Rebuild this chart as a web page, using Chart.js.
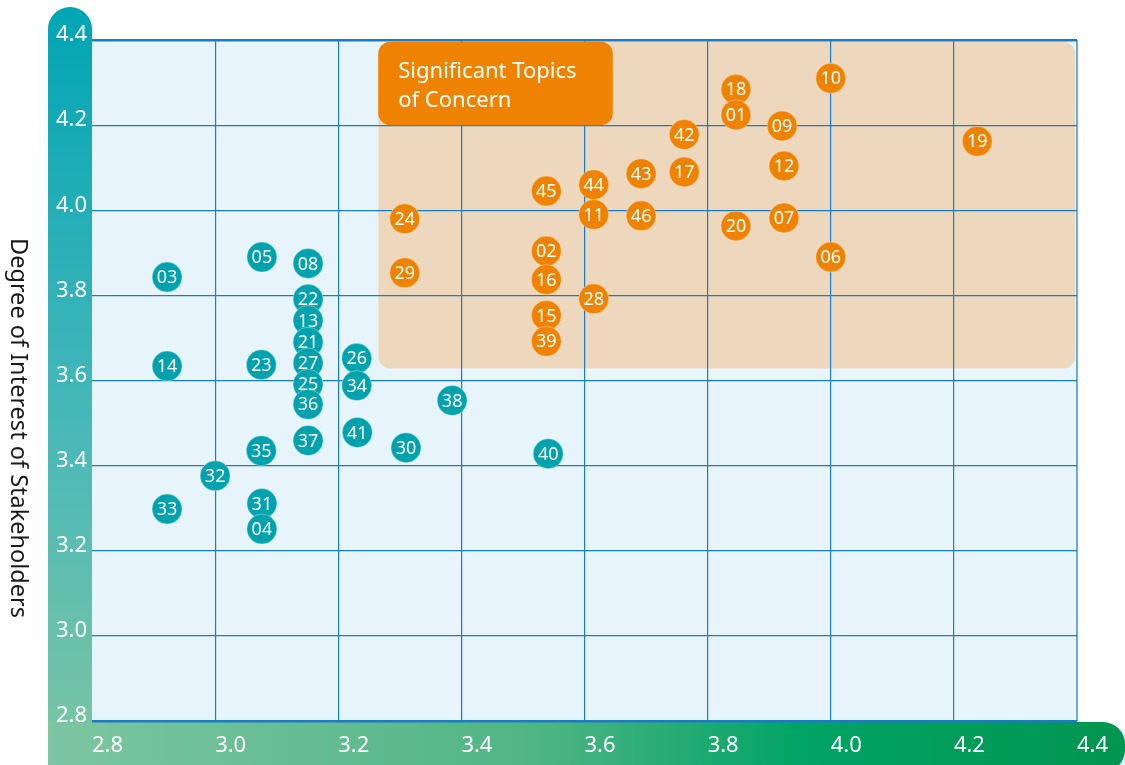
<!DOCTYPE html>
<html>
<head>
<meta charset="utf-8">
<script src="https://cdn.jsdelivr.net/npm/chart.js@4.4.0/dist/chart.umd.min.js"></script>
<style>
  html, body { margin: 0; padding: 0; background: #ffffff; }
  #contenedor { width: 1125px; height: 765px; }
</style>
</head>
<body>
<div id="contenedor"><canvas id="grafica" width="1125" height="765"></canvas></div>
<script>
//--------Datos
// Temas significativos (naranja)
const significantIds = ["24", "29", "45", "02", "16", "15", "39", "44", "11", "28", "43", "46",
    "42", "17", "18", "01", "20", "09", "12", "07", "10", "06", "19"]
const significantImpact = [3.308, 3.308, 3.538, 3.538, 3.538, 3.538, 3.538, 3.615, 3.615, 3.615, 3.692, 3.692,
    3.762, 3.762, 3.846, 3.846, 3.846, 3.921, 3.924, 3.924, 4.000, 4.000, 4.238]
const significantInterest = [3.98, 3.853, 4.045, 3.904, 3.837, 3.753, 3.692, 4.06, 3.99, 3.792, 4.086, 3.987,
    4.178, 4.09, 4.284, 4.224, 3.963, 4.198, 4.104, 3.982, 4.31, 3.89, 4.162]

// Resto de temas (turquesa)
const otherIds = ["03", "14", "33", "32", "05", "23", "35", "31", "04", "08", "22", "13",
    "21", "27", "25", "36", "37", "26", "34", "41", "30", "38", "40"]
const otherImpact = [2.922, 2.922, 2.922, 3.000, 3.076, 3.075, 3.075, 3.076, 3.076, 3.151, 3.151, 3.151,
    3.151, 3.151, 3.151, 3.151, 3.151, 3.230, 3.230, 3.231, 3.310, 3.385, 3.541]
const otherInterest = [3.843, 3.634, 3.298, 3.376, 3.89, 3.637, 3.435, 3.311, 3.251, 3.875, 3.791, 3.741,
    3.69, 3.641, 3.591, 3.544, 3.459, 3.652, 3.588, 3.478, 3.442, 3.553, 3.428]

// Ejes
const axisMin = 2.8
const axisMax = 4.4
const axisStep = 0.2

// Zona de temas significativos (en unidades de los ejes)
const zoneImpact = [3.265, 4.397]
const zoneInterest = [3.628, 4.396]
const boxImpact = [3.265, 3.646]
const boxInterest = [4.2, 4.396]

const yTitle = "Degree of Interest of Stakeholders"
const boxLines = ["Significant Topics", "of Concern"]

const colorSignificant = "#ef8200"
const colorOther = "#00a3ad"
const colorGrid = "#1a7cc6"
const fuente = "'Noto Sans', 'DejaVu Sans', sans-serif"

function esValor(v, objetivo) {
    return Math.abs(v - objetivo) < 1e-6
}

function roundRect(ctx, x, y, w, h, r) {
    ctx.beginPath()
    ctx.roundRect(x, y, w, h, r)
    ctx.fill()
}

//--------Plugin de decoración
const decoracion = {
    id: "decoracion",
    beforeDraw(chart) {
        const ctx = chart.ctx
        const area = chart.chartArea
        const x = chart.scales.x
        const y = chart.scales.y

        ctx.save()
        // Barra del eje Y
        const gradY = ctx.createLinearGradient(0, 7, 0, 765)
        gradY.addColorStop(0, "#00a5b4")
        gradY.addColorStop(0.55, "#48b8b9")
        gradY.addColorStop(1, "#7cc6a2")
        ctx.fillStyle = gradY
        roundRect(ctx, 48, 7, area.left - 48, 770, [22, 22, 0, 0])

        // Barra del eje X
        const gradX = ctx.createLinearGradient(48, 0, 1125, 0)
        gradX.addColorStop(0, "#7cc6a2")
        gradX.addColorStop(0.45, "#50b585")
        gradX.addColorStop(0.7, "#00a464")
        gradX.addColorStop(1, "#009550")
        ctx.fillStyle = gradX
        roundRect(ctx, 48, area.bottom + 1, 1125 - 48, 50, [0, 22, 22, 0])

        // Fondo del área
        ctx.fillStyle = "#e7f4fc"
        ctx.fillRect(area.left, area.top, area.right - area.left, area.bottom - area.top)

        // Zona significativa
        const zx0 = x.getPixelForValue(zoneImpact[0])
        const zx1 = x.getPixelForValue(zoneImpact[1])
        const zy0 = y.getPixelForValue(zoneInterest[1])
        const zy1 = y.getPixelForValue(zoneInterest[0])
        ctx.fillStyle = "#eed8bd"
        roundRect(ctx, zx0, zy0, zx1 - zx0, zy1 - zy0, 12)

        // Título eje Y
        ctx.fillStyle = "#1a1a1a"
        ctx.font = "23.5px " + fuente
        ctx.textAlign = "center"
        ctx.textBaseline = "middle"
        ctx.translate(18, 428)
        ctx.rotate(Math.PI / 2)
        ctx.fillText(yTitle, 0, 0)
        ctx.restore()
    },
    beforeDatasetsDraw(chart) {
        const ctx = chart.ctx
        const x = chart.scales.x
        const y = chart.scales.y
        const bx0 = x.getPixelForValue(boxImpact[0])
        const bx1 = x.getPixelForValue(boxImpact[1])
        const by0 = y.getPixelForValue(boxInterest[1])
        const by1 = y.getPixelForValue(boxInterest[0])

        ctx.save()
        ctx.fillStyle = colorSignificant
        roundRect(ctx, bx0, by0, bx1 - bx0, by1 - by0, 12)
        ctx.fillStyle = "#ffffff"
        ctx.font = "22px " + fuente
        ctx.textAlign = "left"
        ctx.textBaseline = "alphabetic"
        ctx.fillText(boxLines[0], bx0 + 20, by0 + 36)
        ctx.fillText(boxLines[1], bx0 + 20, by0 + 65)
        ctx.restore()
    },
    afterDatasetsDraw(chart) {
        const ctx = chart.ctx
        ctx.save()
        ctx.fillStyle = "#ffffff"
        ctx.font = "18px " + fuente
        ctx.textAlign = "center"
        ctx.textBaseline = "middle"
        chart.data.datasets.forEach((dataset, i) => {
            chart.getDatasetMeta(i).data.forEach((punto, j) => {
                ctx.fillText(dataset.ids[j], punto.x, punto.y + 1)
            })
        })
        ctx.restore()
    }
}

//--------Gráfica
const canvaGrafica = document.getElementById("grafica")

const graficaChart = new Chart(canvaGrafica, {
    type: "scatter",
    data: {
        datasets: [{
            label: "Other Topics",
            ids: otherIds,
            data: otherImpact.map((v, i) => ({ x: v, y: otherInterest[i] })),
            backgroundColor: colorOther,
            borderColor: "rgba(255, 255, 255, 0.35)",
            borderWidth: 1,
            pointRadius: 15,
            pointHoverRadius: 15
        }, {
            label: "Significant Topics",
            ids: significantIds,
            data: significantImpact.map((v, i) => ({ x: v, y: significantInterest[i] })),
            backgroundColor: colorSignificant,
            borderColor: "rgba(255, 255, 255, 0.35)",
            borderWidth: 1,
            pointRadius: 15,
            pointHoverRadius: 15
        }]
    },
    options: {
        responsive: false,
        animation: false,
        devicePixelRatio: 1,
        layout: { padding: { left: 0, top: 40, right: 48, bottom: 0 } },
        plugins: {
            legend: { display: false },
            tooltip: { enabled: false }
        },
        scales: {
            x: {
                type: "linear",
                min: axisMin,
                max: axisMax,
                afterFit: (escala) => { escala.height = 44 },
                border: { display: false },
                grid: {
                    drawTicks: false,
                    color: (c) => esValor(c.tick.value, axisMin) ? "rgba(0,0,0,0)" : (esValor(c.tick.value, axisMax) ? "#6aaade" : colorGrid),
                    lineWidth: (c) => esValor(c.tick.value, axisMax) ? 2 : 1.2
                },
                ticks: {
                    stepSize: axisStep,
                    align: "start",
                    autoSkip: false,
                    maxRotation: 0,
                    padding: 12,
                    color: "#ffffff",
                    font: { family: fuente, size: 22 },
                    callback: (v) => Number(v).toFixed(1)
                }
            },
            y: {
                type: "linear",
                min: axisMin,
                max: axisMax,
                afterFit: (escala) => { escala.width = 92 },
                border: { display: false },
                grid: {
                    drawTicks: false,
                    color: colorGrid,
                    lineWidth: (c) => (esValor(c.tick.value, axisMax) || esValor(c.tick.value, axisMin)) ? 2.5 : 1.2
                },
                ticks: {
                    stepSize: axisStep,
                    padding: 5,
                    labelOffset: -5,
                    color: "#ffffff",
                    font: { family: fuente, size: 22 },
                    callback: (v) => Number(v).toFixed(1)
                }
            }
        }
    },
    plugins: [decoracion]
})
</script>
</body>
</html>
